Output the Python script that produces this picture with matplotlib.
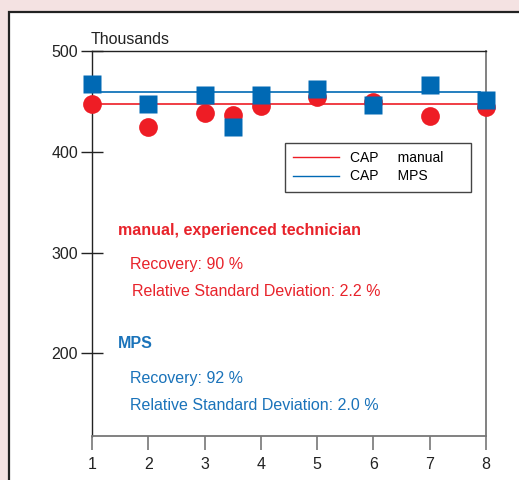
import matplotlib
matplotlib.use("Agg")
import matplotlib.pyplot as plt
from matplotlib.patches import Rectangle
from matplotlib.lines import Line2D

plt.rcParams['font.family'] = ['Liberation Sans', 'DejaVu Sans']

# Data
x_vals = [1, 2, 3, 3.5, 4, 5, 6, 7, 8]
manual = [447.5, 425, 438.5, 436.5, 445.5, 454.5, 449.5, 435.5, 444.5]
mps = [467, 447.5, 456.5, 425, 456.5, 462, 446.5, 466, 451.5]
manual_mean = 447.8
mps_mean = 459.4
mean_span = [1, 7.9]
x_ticks = [1, 2, 3, 4, 5, 6, 7, 8]
y_ticks = [200, 300, 400, 500]
legend_labels = ['CAP     manual    ', 'CAP     MPS         ']

RED = '#EE1D25'
BLUE = '#0069B4'
RED_T = '#E8232B'
BLUE_T = '#1A73BA'

W, H = 519, 480
fig = plt.figure(figsize=(W / 100, H / 100), dpi=100)
fig.patch.set_facecolor('#F4E2E2')

# white panel
panel = Rectangle((9 / W, -0.05), 1.1, 1 - 12 / H + 0.05, transform=fig.transFigure,
                  facecolor='white', edgecolor='#222222', linewidth=1.6, zorder=-5)
fig.patches.append(panel)

ax = fig.add_axes([92 / W, (H - 436) / H, (486 - 92) / W, (436 - 51) / H])
ax.set_facecolor('none')
ax.set_xlim(1, 8)
ax.set_ylim(118, 500)

ax.plot(mean_span, [manual_mean] * 2, color=RED, lw=1.2, zorder=2)
ax.plot(mean_span, [mps_mean] * 2, color=BLUE, lw=1.2, zorder=2)
ax.plot(x_vals, manual, 'o', color=RED, ms=13.5, mec='none', clip_on=False, zorder=3)
ax.plot(x_vals, mps, 's', color=BLUE, ms=12.5, mec='none', clip_on=False, zorder=4)

ax.set_xticks(x_ticks)
ax.set_yticks(y_ticks)
ax.tick_params(axis='y', direction='inout', length=16, width=1, colors='#222222',
               labelsize=11.5, pad=2)
ax.tick_params(axis='x', direction='out', length=10, width=1.2, color='#777777',
               labelcolor='#222222', labelsize=11.5, pad=5)
for s in ['left', 'top']:
    ax.spines[s].set_color('#222222')
    ax.spines[s].set_linewidth(1)
for s in ['right', 'bottom']:
    ax.spines[s].set_color('#777777')
    ax.spines[s].set_linewidth(1.3)

fig.text(91 / W, 1 - 39 / H, 'Thousands', fontsize=11.5, color='#222222',
         ha='left', va='center')

handles = [Line2D([], [], color=RED, lw=1), Line2D([], [], color=BLUE, lw=1)]
leg = ax.legend(handles, legend_labels, loc='upper right',
                bbox_to_anchor=((471 - 92) / 394, (436 - 143) / 385),
                fancybox=False, framealpha=1, edgecolor='#444444', fontsize=10,
                handlelength=3.3, borderpad=0.6, labelspacing=0.3,
                handletextpad=0.8, borderaxespad=0)
leg.get_frame().set_linewidth(1)

def px2x(px):
    return 1 + (px - 92) / 394 * 7

def py2y(py):
    return 500 - (py - 51) / 385 * 382

ax.text(px2x(118), py2y(230), 'manual, experienced technician', color=RED_T,
        fontsize=11.5, fontweight='bold', va='center', ha='left')
ax.text(px2x(130), py2y(265), 'Recovery: 90 %', color=RED_T, fontsize=11.5,
        va='center', ha='left')
ax.text(px2x(132), py2y(292), 'Relative Standard Deviation: 2.2 %', color=RED_T,
        fontsize=11.5, va='center', ha='left')
ax.text(px2x(118), py2y(344), 'MPS', color=BLUE_T, fontsize=11.5,
        fontweight='bold', va='center', ha='left')
ax.text(px2x(130), py2y(379), 'Recovery: 92 %', color=BLUE_T, fontsize=11.5,
        va='center', ha='left')
ax.text(px2x(130), py2y(406), 'Relative Standard Deviation: 2.0 %', color=BLUE_T,
        fontsize=11.5, va='center', ha='left')

fig.savefig('out.png', dpi=100, facecolor=fig.get_facecolor())
